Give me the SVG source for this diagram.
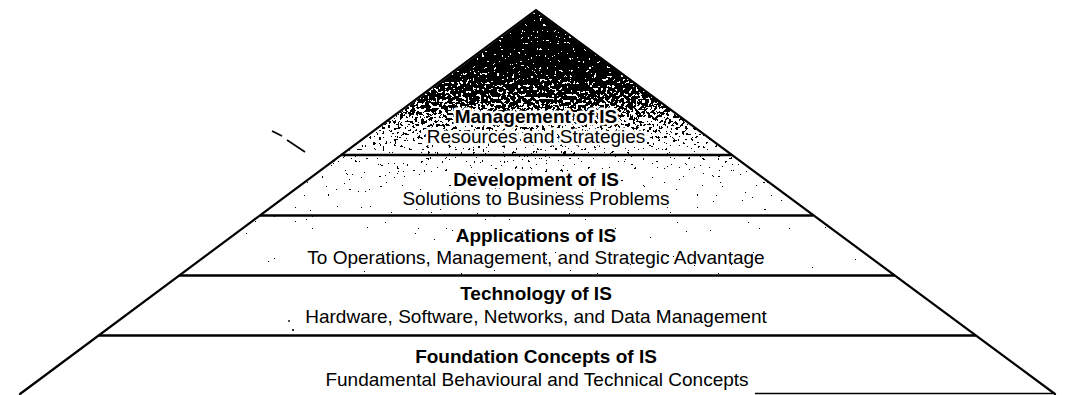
<svg xmlns="http://www.w3.org/2000/svg" width="1065" height="395" viewBox="0 0 1065 395">
  <style>
    .edge { fill: none; stroke: #000; stroke-width: 2.2; stroke-linecap: round; }
    .divider { stroke: #000; stroke-width: 2.6; }
    .title { font-family: "Liberation Sans", Arial, sans-serif; font-size: 19px; font-weight: bold; fill: #000; text-anchor: middle; }
    .sub { font-family: "Liberation Sans", Arial, sans-serif; font-size: 19px; fill: #000; text-anchor: middle; }
    .halo { paint-order: stroke; stroke: #fff; stroke-width: 5px; stroke-linejoin: round; }
  </style>
  <defs>
    <linearGradient id="shade" gradientUnits="userSpaceOnUse" x1="0" y1="10" x2="0" y2="280">
      <stop offset="0" stop-color="#000" stop-opacity="1"/>
      <stop offset="0.2" stop-color="#000" stop-opacity="1"/>
      <stop offset="0.32" stop-color="#000" stop-opacity="0.8"/>
      <stop offset="0.44" stop-color="#000" stop-opacity="0.45"/>
      <stop offset="0.55" stop-color="#000" stop-opacity="0.2"/>
      <stop offset="0.7" stop-color="#000" stop-opacity="0.08"/>
      <stop offset="0.88" stop-color="#000" stop-opacity="0.02"/>
      <stop offset="1" stop-color="#000" stop-opacity="0"/>
    </linearGradient>
    <filter id="stipple" x="0" y="0" width="100%" height="100%" color-interpolation-filters="sRGB">
      <feTurbulence type="fractalNoise" baseFrequency="0.33" numOctaves="2" seed="11" result="noise"/>
      <feColorMatrix in="noise" type="matrix" values="0 0 0 0 0  0 0 0 0 0  0 0 0 0 0  1 0 0 0 0" result="na"/>
      <feComposite in="SourceGraphic" in2="na" operator="arithmetic" k1="0" k2="0.55" k3="1" k4="-0.34" result="sum"/>
      <feComponentTransfer in="sum">
        <feFuncR type="linear" slope="0" intercept="0"/>
        <feFuncG type="linear" slope="0" intercept="0"/>
        <feFuncB type="linear" slope="0" intercept="0"/>
        <feFuncA type="discrete" tableValues="0 1"/>
      </feComponentTransfer>
    </filter>
    <clipPath id="topClip">
      <polygon points="536,11 181,276 895,276"/>
    </clipPath>
  </defs>

  <rect x="0" y="0" width="1065" height="395" fill="#fff"/>

  <g id="texture" clip-path="url(#topClip)">
    <rect x="170" y="8" width="740" height="270" fill="url(#shade)" filter="url(#stipple)"/>
  </g>

  <g id="pyramid">
    <polyline class="edge" points="20,394 536,10 1055,394"/>
  </g>

  <g id="dividers">
    <line class="divider" x1="341" y1="155" x2="732" y2="155"/>
    <line class="divider" x1="260" y1="215.5" x2="813" y2="215.5"/>
    <line class="divider" x1="179" y1="275.5" x2="895" y2="275.5"/>
    <line class="divider" x1="99" y1="335.5" x2="976" y2="335.5"/>
    <line x1="755" y1="393.5" x2="1053" y2="393.5" stroke="#000" stroke-width="1.6"/>
  </g>

  <g id="marks" stroke="#000" stroke-width="1.6" fill="none">
    <line x1="272" y1="131" x2="282" y2="136"/>
    <line x1="287" y1="140" x2="305" y2="152"/>
    <circle cx="289" cy="321" r="0.9" fill="#000" stroke="none"/>
    <circle cx="293" cy="330" r="1.1" fill="#000" stroke="none"/>
  </g>

  <g id="layer-management">
    <text class="title halo" x="536" y="123">Management of IS</text>
    <text class="sub halo" x="536" y="143">Resources and Strategies</text>
  </g>
  <g id="layer-development">
    <text class="title halo" x="536" y="186">Development of IS</text>
    <text class="sub halo" x="536" y="205">Solutions to Business Problems</text>
  </g>
  <g id="layer-applications">
    <text class="title" x="536" y="242">Applications of IS</text>
    <text class="sub" x="536" y="264">To Operations, Management, and Strategic Advantage</text>
  </g>
  <g id="layer-technology">
    <text class="title" x="536" y="300">Technology of IS</text>
    <text class="sub" x="536" y="323">Hardware, Software, Networks, and Data Management</text>
  </g>
  <g id="layer-foundation">
    <text class="title" x="536" y="363">Foundation Concepts of IS</text>
    <text class="sub" x="537" y="386">Fundamental Behavioural and Technical Concepts</text>
  </g>
</svg>
